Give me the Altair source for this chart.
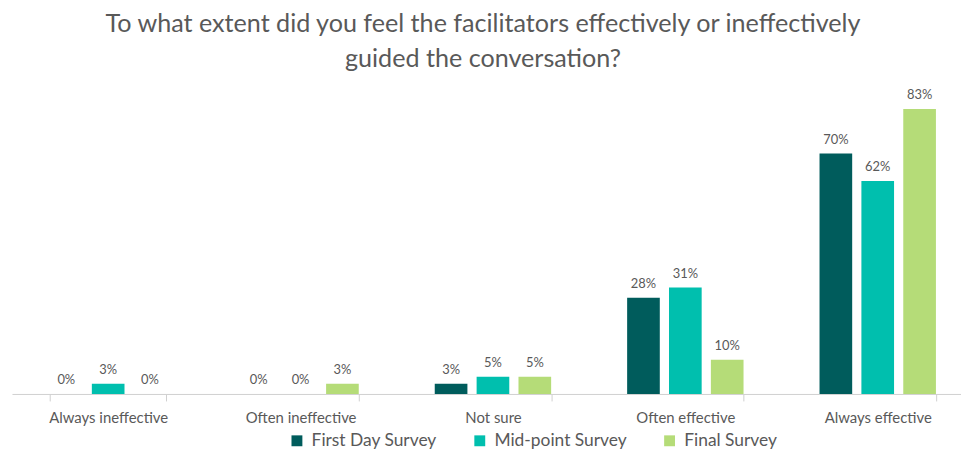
import altair as alt
import pandas as pd

categories = ["Always ineffective", "Often ineffective", "Not sure", "Often effective", "Always effective"]
surveys = ["First Day Survey", "Mid-point Survey", "Final Survey"]
first_day = [0, 0, 3, 28, 70]
mid_point = [3, 0, 5, 31, 62]
final = [0, 3, 5, 10, 83]
colors = ["#005c5c", "#00bfae", "#b5dc78"]

rows = []
for i, c in enumerate(categories):
    for s, vals in zip(surveys, [first_day, mid_point, final]):
        rows.append({"Category": c, "Survey": s, "Value": vals[i]})
df = pd.DataFrame(rows)

FONT = "Lato"
GRAY = "#595959"

x = alt.X("Category:N", sort=categories, title=None,
          scale=alt.Scale(paddingInner=0.395, paddingOuter=0.1975),
          axis=alt.Axis(labelAngle=0, labelFontSize=15, labelColor=GRAY, labelFont=FONT,
                        domainColor="#d0d0d0", tickColor="#d0d0d0", tickBand="extent",
                        tickSize=7, labelPadding=10))
xo = alt.XOffset("Survey:N", sort=surveys, scale=alt.Scale(paddingInner=0.22))
y = alt.Y("Value:Q", scale=alt.Scale(domain=[0, 90]), axis=None)

bars = alt.Chart(df).mark_bar().encode(
    x=x, xOffset=xo, y=y,
    color=alt.Color("Survey:N", sort=surveys,
                    scale=alt.Scale(domain=surveys, range=colors),
                    legend=alt.Legend(title=None, orient="none", direction="horizontal",
                                      legendX=278, legendY=349, symbolType="square",
                                      symbolSize=120, symbolStrokeWidth=0,
                                      labelFontSize=17.5, labelColor=GRAY, labelFont=FONT,
                                      columnPadding=34, labelOffset=6)),
)

labels = alt.Chart(df).transform_calculate(lab="datum.Value + '%'").mark_text(
    dy=-14, fontSize=13, color=GRAY, font=FONT
).encode(x=x, xOffset=xo, y=y, text="lab:N")

chart = alt.layer(bars, labels).properties(
    width=968, height=311,
    title=alt.TitleParams(
        ["To what extent did you feel the facilitators effectively or ineffectively",
         "guided the conversation?"],
        fontSize=25.3, font=FONT, fontWeight="normal", color=GRAY, lineHeight=35,
        anchor="middle", offset=13, dx=-10),
    autosize=alt.AutoSizeParams(type="none"),
    padding={"left": 4, "top": 76, "right": -13, "bottom": 58},
).configure_view(stroke=None)

chart.save("out.html", embed_options={"renderer": "svg", "actions": False})
